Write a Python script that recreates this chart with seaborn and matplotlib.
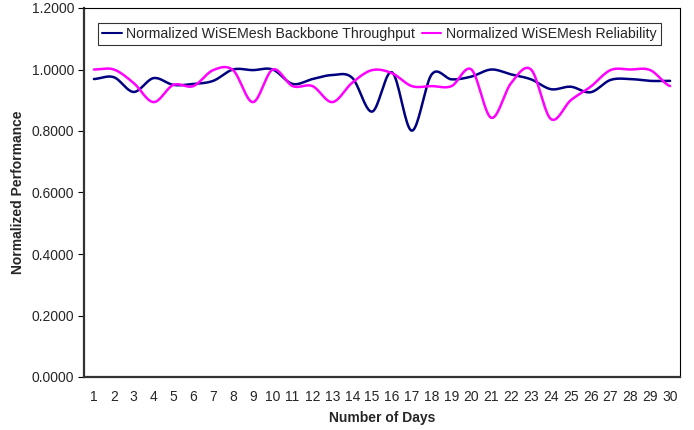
import numpy as np
import pandas as pd
import matplotlib
matplotlib.use("Agg")
import matplotlib.pyplot as plt
import seaborn as sns

days = list(range(1, 31))
throughput = [0.969, 0.975, 0.927, 0.972, 0.950, 0.953, 0.963, 1.000, 0.998, 1.000,
              0.953, 0.969, 0.982, 0.973, 0.863, 0.991, 0.801, 0.984, 0.968, 0.977,
              1.000, 0.984, 0.968, 0.936, 0.944, 0.926, 0.966, 0.969, 0.963, 0.963]
reliability = [1.000, 1.000, 0.956, 0.894, 0.950, 0.946, 0.998, 0.998, 0.894, 1.000,
               0.946, 0.946, 0.894, 0.957, 0.998, 0.988, 0.946, 0.946, 0.946, 1.000,
               0.843, 0.956, 1.000, 0.839, 0.900, 0.944, 0.998, 1.000, 0.998, 0.946]
series_names = ["Normalized WiSEMesh Backbone Throughput", "Normalized WiSEMesh Reliability"]
colors = ["#000080", "#FF00FF"]


def smooth(x, y, steps=20):
    # Catmull-Rom curve through the points, like the spreadsheet "smoothed line"
    x = np.asarray(x, float)
    y = np.asarray(y, float)
    px = np.concatenate([[2 * x[0] - x[1]], x, [2 * x[-1] - x[-2]]])
    py = np.concatenate([[y[0]], y, [y[-1]]])
    xs, ys = [], []
    t = np.linspace(0, 1, steps, endpoint=False)
    for i in range(1, len(px) - 2):
        for arr, out in ((px, xs), (py, ys)):
            p0, p1, p2, p3 = arr[i - 1], arr[i], arr[i + 1], arr[i + 2]
            out.extend(0.5 * ((2 * p1) + (-p0 + p2) * t
                              + (2 * p0 - 5 * p1 + 4 * p2 - p3) * t ** 2
                              + (-p0 + 3 * p1 - 3 * p2 + p3) * t ** 3))
    xs.append(x[-1])
    ys.append(y[-1])
    return np.array(xs), np.array(ys)


frames = []
for name, vals in zip(series_names, [throughput, reliability]):
    sx, sy = smooth(days, vals)
    frames.append(pd.DataFrame({"day": sx, "value": sy, "series": name}))
df = pd.concat(frames, ignore_index=True)

sns.set_style("white")
plt.rcParams["font.family"] = ["Liberation Sans", "DejaVu Sans"]

fig = plt.figure(figsize=(6.94, 4.30), dpi=100)
ax = fig.add_axes([84 / 694, 53 / 430, 596 / 694, 369 / 430])

sns.lineplot(data=df, x="day", y="value", hue="series", palette=colors,
             sort=False, estimator=None, linewidth=1.8, ax=ax)

ax.set_xlim(0.5, 30.5)
ax.set_ylim(0, 1.2)
ax.set_yticks(np.arange(0, 1.21, 0.2))
ax.set_yticklabels([f"{v:.4f}" for v in np.arange(0, 1.21, 0.2)], fontsize=10)
ax.set_xticks(days)
ax.set_xticklabels([str(d) for d in days], fontsize=10)
ax.set_xticks(np.arange(0.5, 31, 1), minor=True)
ax.tick_params(axis="x", which="major", length=0, pad=9.5)
ax.tick_params(axis="x", which="minor", direction="out", length=4, width=0.8, color="black")
ax.tick_params(axis="y", direction="out", length=4, width=0.8, color="black", left=True, pad=3)

for side in ["top", "right"]:
    ax.spines[side].set_color("black")
    ax.spines[side].set_linewidth(0.8)
for side in ["left", "bottom"]:
    ax.spines[side].set_color("#333333")
    ax.spines[side].set_linewidth(1.6)

ax.set_xlabel("Number of Days", fontsize=10, fontweight="bold", va="center")
ax.set_ylabel("Normalized Performance", fontsize=10, fontweight="bold", va="center")
ax.xaxis.set_label_coords(0.5, (377 - 418) / 369)
ax.yaxis.set_label_coords((18 - 84) / 596, 0.5)

handles, labels = ax.get_legend_handles_labels()
leg = ax.legend(handles, labels, loc="upper left", bbox_to_anchor=(0.0235, 0.96),
                ncol=2, frameon=True, fancybox=False, fontsize=10.2,
                handlelength=1.4, handletextpad=0.3, columnspacing=0.45,
                borderpad=0.3, borderaxespad=0)
leg.get_frame().set_edgecolor("black")
leg.get_frame().set_linewidth(0.8)
for line in leg.get_lines():
    line.set_linewidth(1.5)

fig.savefig("out.png", dpi=100)
